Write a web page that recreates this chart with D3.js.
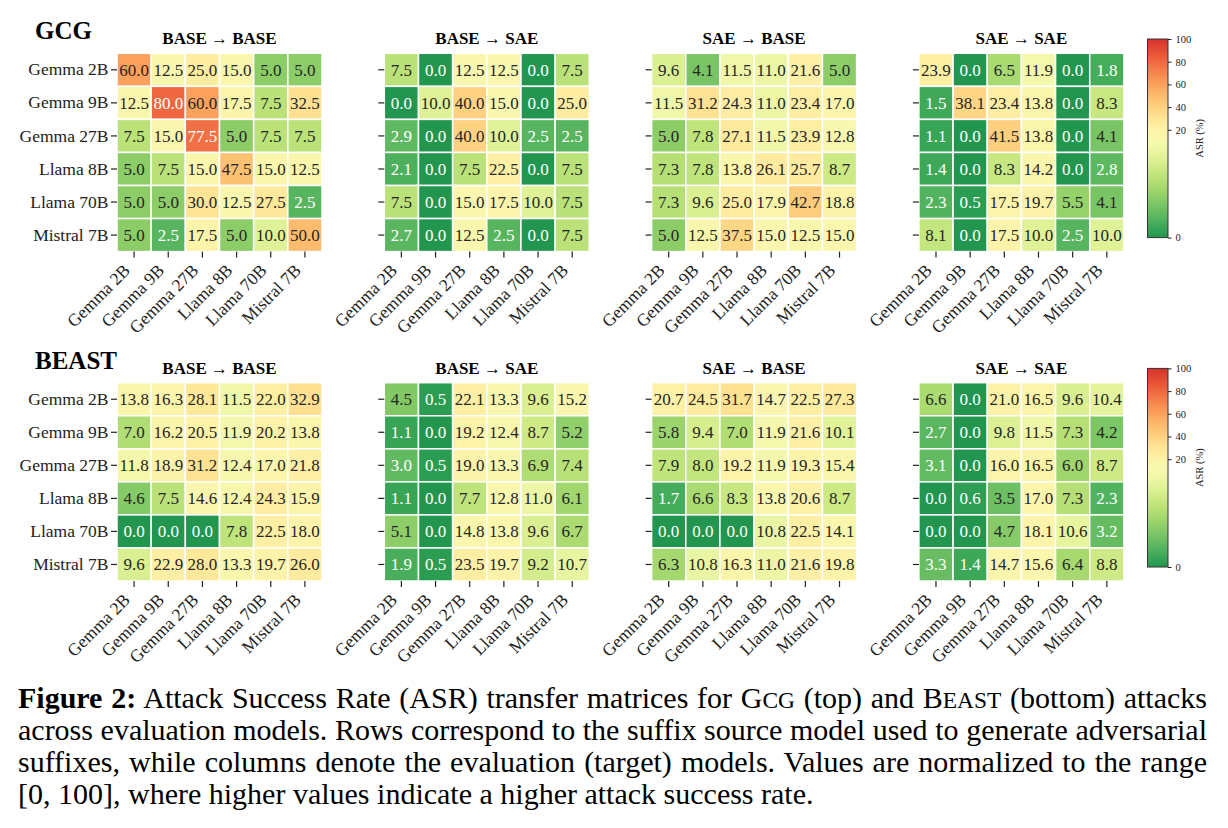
<!DOCTYPE html>
<html>
<head>
<meta charset="utf-8">
<script src="https://cdn.jsdelivr.net/npm/d3@7"></script>
<style>
  body { margin: 0; background: #fff; }
  svg { display: block; font-family: "Liberation Serif", "Times New Roman", serif; }
</style>
</head>
<body>
<svg id="fig" width="1228" height="828"></svg>
<script>
// models on both axes (rows = suffix source, columns = evaluation target)
const models = ["Gemma 2B", "Gemma 9B", "Gemma 27B", "Llama 8B", "Llama 70B", "Mistral 7B"];
const panelTitles = ["BASE → BASE", "BASE → SAE", "SAE → BASE", "SAE → SAE"];
const attacks = ["GCG", "BEAST"];
const cbarTicks = [0, 20, 40, 60, 80, 100];

// GCG
const gcgBaseBase = [
  [60.0, 12.5, 25.0, 15.0, 5.0, 5.0],
  [12.5, 80.0, 60.0, 17.5, 7.5, 32.5],
  [7.5, 15.0, 77.5, 5.0, 7.5, 7.5],
  [5.0, 7.5, 15.0, 47.5, 15.0, 12.5],
  [5.0, 5.0, 30.0, 12.5, 27.5, 2.5],
  [5.0, 2.5, 17.5, 5.0, 10.0, 50.0]
];
const gcgBaseSae = [
  [7.5, 0.0, 12.5, 12.5, 0.0, 7.5],
  [0.0, 10.0, 40.0, 15.0, 0.0, 25.0],
  [2.9, 0.0, 40.0, 10.0, 2.5, 2.5],
  [2.1, 0.0, 7.5, 22.5, 0.0, 7.5],
  [7.5, 0.0, 15.0, 17.5, 10.0, 7.5],
  [2.7, 0.0, 12.5, 2.5, 0.0, 7.5]
];
const gcgSaeBase = [
  [9.6, 4.1, 11.5, 11.0, 21.6, 5.0],
  [11.5, 31.2, 24.3, 11.0, 23.4, 17.0],
  [5.0, 7.8, 27.1, 11.5, 23.9, 12.8],
  [7.3, 7.8, 13.8, 26.1, 25.7, 8.7],
  [7.3, 9.6, 25.0, 17.9, 42.7, 18.8],
  [5.0, 12.5, 37.5, 15.0, 12.5, 15.0]
];
const gcgSaeSae = [
  [23.9, 0.0, 6.5, 11.9, 0.0, 1.8],
  [1.5, 38.1, 23.4, 13.8, 0.0, 8.3],
  [1.1, 0.0, 41.5, 13.8, 0.0, 4.1],
  [1.4, 0.0, 8.3, 14.2, 0.0, 2.8],
  [2.3, 0.5, 17.5, 19.7, 5.5, 4.1],
  [8.1, 0.0, 17.5, 10.0, 2.5, 10.0]
];

// BEAST
const beastBaseBase = [
  [13.8, 16.3, 28.1, 11.5, 22.0, 32.9],
  [7.0, 16.2, 20.5, 11.9, 20.2, 13.8],
  [11.8, 18.9, 31.2, 12.4, 17.0, 21.8],
  [4.6, 7.5, 14.6, 12.4, 24.3, 15.9],
  [0.0, 0.0, 0.0, 7.8, 22.5, 18.0],
  [9.6, 22.9, 28.0, 13.3, 19.7, 26.0]
];
const beastBaseSae = [
  [4.5, 0.5, 22.1, 13.3, 9.6, 15.2],
  [1.1, 0.0, 19.2, 12.4, 8.7, 5.2],
  [3.0, 0.5, 19.0, 13.3, 6.9, 7.4],
  [1.1, 0.0, 7.7, 12.8, 11.0, 6.1],
  [5.1, 0.0, 14.8, 13.8, 9.6, 6.7],
  [1.9, 0.5, 23.5, 19.7, 9.2, 10.7]
];
const beastSaeBase = [
  [20.7, 24.5, 31.7, 14.7, 22.5, 27.3],
  [5.8, 9.4, 7.0, 11.9, 21.6, 10.1],
  [7.9, 8.0, 19.2, 11.9, 19.3, 15.4],
  [1.7, 6.6, 8.3, 13.8, 20.6, 8.7],
  [0.0, 0.0, 0.0, 10.8, 22.5, 14.1],
  [6.3, 10.8, 16.3, 11.0, 21.6, 19.8]
];
const beastSaeSae = [
  [6.6, 0.0, 21.0, 16.5, 9.6, 10.4],
  [2.7, 0.0, 9.8, 11.5, 7.3, 4.2],
  [3.1, 0.0, 16.0, 16.5, 6.0, 8.7],
  [0.0, 0.6, 3.5, 17.0, 7.3, 2.3],
  [0.0, 0.0, 4.7, 18.1, 10.6, 3.2],
  [3.3, 1.4, 14.7, 15.6, 6.4, 8.8]
];

const matrices = [
  [gcgBaseBase, gcgBaseSae, gcgSaeBase, gcgSaeSae],
  [beastBaseBase, beastBaseSae, beastSaeBase, beastSaeSae]
];

// layout
const rowTop = [53.3, 382.7],
    panelLeft = 117, panelStep = 267.3,
    panelW = 205, panelH = 198.3;

const svg = d3.select("#fig");

// two-slope norm centred at 12.5, colormap = RdYlGn reversed, trimmed to [0.1, 0.9]
const norm = d3.scaleLinear().domain([0, 12.5, 100]).range([0, 0.5, 1]).clamp(true);
const color = v => d3.interpolateRdYlGn(0.9 - 0.8 * norm(v));

// seaborn-style annotation colour from luminance
function textColor(c) {
    const rgb = d3.rgb(c);
    const lin = x => { x /= 255; return x <= 0.03928 ? x / 12.92 : Math.pow((x + 0.055) / 1.055, 2.4); };
    const L = 0.2126 * lin(rgb.r) + 0.7152 * lin(rgb.g) + 0.0722 * lin(rgb.b);
    return L > 0.408 ? "#262626" : "#ffffff";
}

attacks.forEach((attack, r) => {
    const top = rowTop[r];

    svg.append("text")
        .attr("x", 35).attr("y", top - 14)
        .attr("font-size", 25).attr("font-weight", "bold")
        .text(attack);

    matrices[r].forEach((mat, p) => {
        const px = panelLeft + p * panelStep;
        const x = d3.scaleBand().domain(models).range([px, px + panelW]);
        const y = d3.scaleBand().domain(models).range([top, top + panelH]);

        svg.append("text")
            .attr("x", px + panelW / 2).attr("y", top - 9)
            .attr("text-anchor", "middle")
            .attr("font-size", 17).attr("font-weight", "bold")
            .text(panelTitles[p]);

        const cells = models.flatMap((src, i) => models.map((tgt, j) => ({src, tgt, v: mat[i][j]})));

        const g = svg.append("g");
        g.selectAll("rect")
            .data(cells)
            .join("rect")
            .attr("x", d => x(d.tgt))
            .attr("y", d => y(d.src))
            .attr("width", x.bandwidth())
            .attr("height", y.bandwidth())
            .attr("fill", d => color(d.v))
            .attr("stroke", "#fff")
            .attr("stroke-width", 1.5);

        g.selectAll("text")
            .data(cells)
            .join("text")
            .attr("x", d => x(d.tgt) + x.bandwidth() / 2)
            .attr("y", d => y(d.src) + y.bandwidth() / 2)
            .attr("dy", "0.35em")
            .attr("text-anchor", "middle")
            .attr("font-size", 17)
            .attr("fill", d => textColor(color(d.v)))
            .text(d => d.v.toFixed(1));

        // row axis
        svg.append("g")
            .attr("transform", `translate(${px},0)`)
            .call(d3.axisLeft(y).tickSize(6).tickPadding(2.5).tickFormat(p === 0 ? d => d : () => ""))
            .call(a => a.select(".domain").remove())
            .attr("font-family", null)
            .attr("font-size", 17.5)
            .attr("color", "#222")
            .selectAll("line").attr("stroke-width", 1.2);

        // column axis
        svg.append("g")
            .attr("transform", `translate(0,${top + panelH})`)
            .call(d3.axisBottom(x).tickSize(6))
            .call(a => a.select(".domain").remove())
            .attr("font-family", null)
            .attr("font-size", 17.5)
            .attr("color", "#222")
            .call(a => a.selectAll("line").attr("stroke-width", 1.2))
            .selectAll("text")
            .attr("text-anchor", "end")
            .attr("y", 0).attr("dy", null)
            .attr("transform", "translate(-3,20) rotate(-45)");
    });

    // colorbar
    const cbX = 1147.5, cbW = 20.5, cbTop = top - 14.3, cbH = 198.6;
    const cbY = d3.scaleLinear().domain([0, 12.5, 100]).range([cbTop + cbH, cbTop + cbH / 2, cbTop]);

    const gradId = "cbar" + r;
    const grad = svg.append("defs").append("linearGradient")
        .attr("id", gradId)
        .attr("x1", 0).attr("y1", 1).attr("x2", 0).attr("y2", 0);
    grad.selectAll("stop")
        .data(d3.range(0, 1.0001, 0.02))
        .join("stop")
        .attr("offset", t => t)
        .attr("stop-color", t => d3.interpolateRdYlGn(0.9 - 0.8 * t));

    svg.append("rect")
        .attr("x", cbX).attr("y", cbTop)
        .attr("width", cbW).attr("height", cbH)
        .attr("fill", `url(#${gradId})`)
        .attr("stroke", "#333").attr("stroke-width", 1);

    svg.append("g")
        .attr("transform", `translate(${cbX + cbW},0)`)
        .call(d3.axisRight(cbY).tickValues(cbarTicks).tickSize(3.5).tickPadding(4))
        .call(a => a.select(".domain").remove())
        .attr("font-family", null)
        .attr("font-size", 10.5)
        .attr("color", "#222");

    svg.append("text")
        .attr("transform", `translate(1203,${cbTop + cbH / 2}) rotate(-90)`)
        .attr("text-anchor", "middle")
        .attr("font-size", 10.5)
        .attr("fill", "#222")
        .text("ASR (%)");
});

// caption
const captionLeft = 18, captionRight = 1207, captionTop = 708, captionLead = 32;
const capSize = 30;
const captionRuns = [
    [["Figure 2:", "b"], [" Attack Success Rate (ASR) transfer matrices for G", ""], ["CG", "sc"], [" (top) and B", ""], ["EAST", "sc"], [" (bottom) attacks", ""]],
    [["across evaluation models. Rows correspond to the suffix source model used to generate adversarial", ""]],
    [["suffixes, while columns denote the evaluation (target) models. Values are normalized to the range", ""]],
    [["[0, 100], where higher values indicate a higher attack success rate.", ""]]
];

captionRuns.forEach((runs, i) => {
    const t = svg.append("text")
        .attr("x", captionLeft)
        .attr("y", captionTop + i * captionLead)
        .attr("font-size", capSize)
        .attr("fill", "#000")
        .attr("xml:space", "preserve");
    runs.forEach(([s, style]) => {
        t.append("tspan")
            .attr("font-weight", style === "b" ? "bold" : null)
            .attr("font-size", style === "sc" ? capSize * 0.78 : null)
            .text(s);
    });
    if (i < captionRuns.length - 1) {
        const natural = t.node().getComputedTextLength();
        const spaces = runs.map(d => d[0]).join("").split(" ").length - 1;
        t.attr("word-spacing", (captionRight - captionLeft - natural) / spaces);
    }
});
</script>
</body>
</html>
